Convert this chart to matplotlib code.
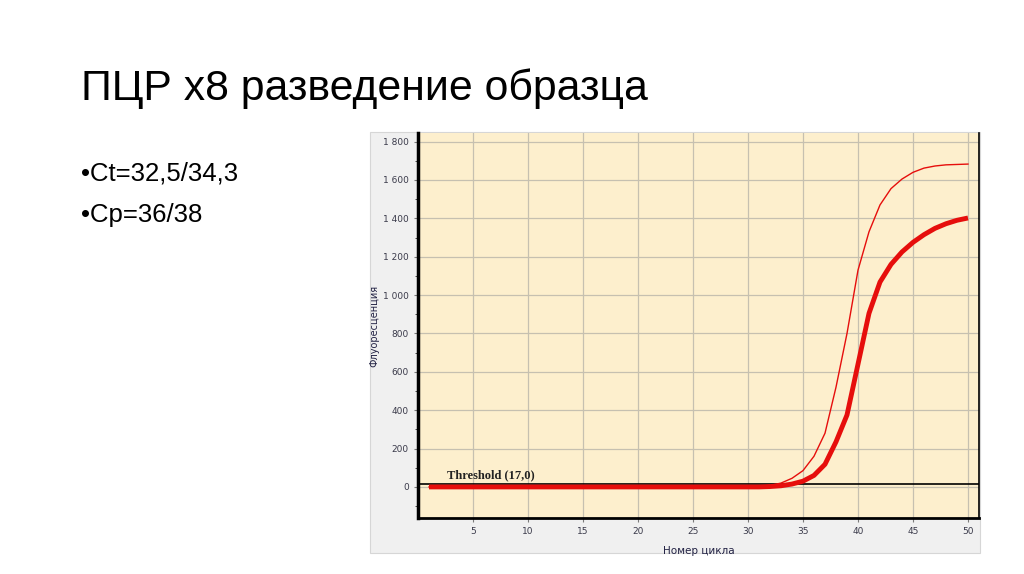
import numpy as np
import matplotlib.pyplot as plt
from matplotlib.patches import Rectangle
from matplotlib.ticker import FuncFormatter, MultipleLocator

# ── data ─────────────────────────────────────────────────────────────────────
cycles = list(range(1, 51))
thin_curve = [0] * 30 + [2, 8, 20, 45, 85, 160, 280, 520, 800, 1130,
                         1330, 1470, 1555, 1605, 1640, 1662, 1673, 1679, 1681, 1683]
thick_curve = [0] * 31 + [2, 6, 15, 30, 60, 118, 235, 375, 640, 905,
                          1068, 1160, 1225, 1275, 1315, 1348, 1372, 1390, 1402]
threshold = 17.0
x_ticks = [5, 10, 15, 20, 25, 30, 35, 40, 45, 50]
y_ticks = [0, 200, 400, 600, 800, 1000, 1200, 1400, 1600, 1800]

title = 'ПЦР x8 разведение образца'
bullets = ['•Ct=32,5/34,3', '•Cp=36/38']

W, H = 1024, 574
fig = plt.figure(figsize=(W / 100, H / 100), dpi=100, facecolor='white')

# slide text
fig.text(81 / W, 1 - 89 / H, title, fontsize=30.8, family='Liberation Sans',
         va='center', ha='left', color='black')
fig.text(81 / W, 1 - 173 / H, bullets[0], fontsize=18.5, family='Liberation Sans',
         va='center', ha='left')
fig.text(81 / W, 1 - 215 / H, bullets[1], fontsize=18.5, family='Liberation Sans',
         va='center', ha='left')

# grey panel of the screenshot
fig.patches.append(Rectangle((370 / W, 1 - 553 / H), 610 / W, 421 / H,
                             transform=fig.transFigure, facecolor='#F0F0F0',
                             edgecolor='#D6D6D6', linewidth=0.8, zorder=-1))

ax = fig.add_axes([418 / W, 1 - 518 / H, 561 / W, 385 / H])
ax.set_facecolor('#FDEFCD')
ax.set_xlim(0, 51)
ax.set_ylim(-162, 1845)

ax.xaxis.set_major_locator(plt.FixedLocator(x_ticks))
ax.yaxis.set_major_locator(plt.FixedLocator(y_ticks))
ax.yaxis.set_minor_locator(MultipleLocator(100))
ax.yaxis.set_major_formatter(FuncFormatter(lambda v, p: f'{int(v):,}'.replace(',', ' ')))
ax.grid(color='#C6C0B0', linewidth=0.9)
ax.set_axisbelow(True)

ax.tick_params(axis='both', labelsize=6.5, colors='#7A7A7A', labelcolor='#3A3A4A',
               length=3, width=0.8)
ax.tick_params(axis='y', which='minor', length=2, colors='#333333')
for s in ['left', 'bottom', 'right']:
    ax.spines[s].set_color('black')
ax.spines['left'].set_linewidth(2.5)
ax.spines['bottom'].set_linewidth(2.0)
ax.spines['right'].set_linewidth(1.2)
ax.spines['top'].set_visible(False)

ax.axhline(threshold, color='black', linewidth=1.2, zorder=2)
ax.text(2.6, 32, 'Threshold (17,0)', family='Liberation Serif', fontweight='bold',
        fontsize=9.0, color='#222222', va='bottom')

ax.plot(cycles, thin_curve, color='#E60E0C', linewidth=1.0, zorder=3)
ax.plot(cycles, thick_curve, color='#E60E0C', linewidth=3.5, zorder=3,
        solid_capstyle='butt')

ax.set_xlabel('Номер цикла', fontsize=7.5, color='#222244', labelpad=0)
ax.xaxis.set_label_coords(0.5, -0.072)
ax.set_ylabel('Флуоресценция', fontsize=7, color='#222244')
ax.yaxis.set_label_coords(-0.068, 0.5)

fig.savefig('out.png', dpi=100, facecolor='white')
